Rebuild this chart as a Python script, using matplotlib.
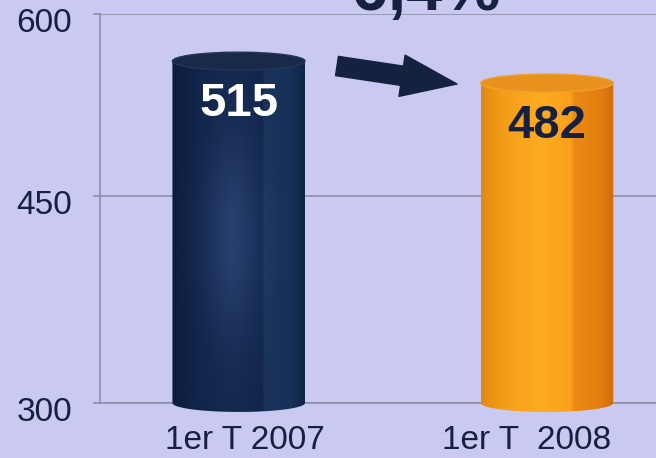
import numpy as np
import matplotlib
matplotlib.use("Agg")
import matplotlib.pyplot as plt
from matplotlib.path import Path
from matplotlib.patches import PathPatch, Ellipse
from matplotlib.colors import to_rgb
from matplotlib.transforms import ScaledTranslation

plt.rcParams['font.family'] = ['Liberation Sans', 'DejaVu Sans']

# data
categories = ['1er T 2007', '1er T  2008']
values = [515, 482]
change_label = '-6,4%'
y_ticks = [300, 450, 600]

BG = '#c9c9f1'
NAVY = '#16213f'
GRID = '#8a8aa6'

fig = plt.figure(figsize=(6.56, 4.58), dpi=100)
fig.patch.set_facecolor(BG)

rect = [0.1524, 0.1201, 0.86, 0.8493]
ax = fig.add_axes(rect)
ax.set_facecolor(BG)

# the printed axis is not linear (3D perspective in the original)
fwd = lambda y: np.interp(y, [300, 450, 600], [0, 0.532, 1])
inv = lambda y: np.interp(y, [0, 0.532, 1], [300, 450, 600])
ax.set_yscale('function', functions=(fwd, inv))
ax.set_ylim(300, 600)
ax.set_xlim(-0.45, 1.38)
ax.set_yticks(y_ticks)
ax.set_yticklabels([str(t) for t in y_ticks])
ax.set_xticks(range(len(categories)))
ax.set_xticklabels(categories)
ax.tick_params(axis='y', length=5, width=1.1, color=GRID, pad=15,
               labelsize=24, labelcolor=NAVY)
ax.tick_params(axis='x', length=0, pad=16, labelsize=24, labelcolor=NAVY)
ax.yaxis.grid(True, color=GRID, linewidth=1.1)
ax.set_axisbelow(True)
for s in ['top', 'right']:
    ax.spines[s].set_visible(False)
for s in ['left', 'bottom']:
    ax.spines[s].set_color(GRID)
    ax.spines[s].set_linewidth(1.1)

for lab in ax.get_yticklabels():
    lab.set_transform(lab.get_transform() + ScaledTranslation(0, -0.06, fig.dpi_scale_trans))
x_shift = [0.06, -0.2]
for lab, dx in zip(ax.get_xticklabels(), x_shift):
    lab.set_transform(lab.get_transform() + ScaledTranslation(dx, 0, fig.dpi_scale_trans))

# cylinders drawn on a linear overlay axis (heights from zero, like the original)
ax2 = fig.add_axes(rect)
ax2.set_xlim(-0.45, 1.38)
ax2.set_ylim(0, 586)
ax2.axis('off')


def shade(stops, ny=60, glow=None):
    xs = np.linspace(0, 1, 200)
    pos = [p for p, c in stops]
    cols = np.array([to_rgb(c) for p, c in stops])
    row = np.stack([np.interp(xs, pos, cols[:, k]) for k in range(3)], axis=1)
    img = np.repeat(row[None, :, :], ny, axis=0)
    if glow is not None:
        gx, gy, amt = glow
        X, Y = np.meshgrid(xs, np.linspace(0, 1, ny))
        g = np.exp(-((X - gx) ** 2 / 0.05 + (Y - gy) ** 2 / 0.08)) * amt
        img = np.clip(img + g[:, :, None] * np.array([0.6, 0.75, 1.0]), 0, 1)
    return img


def cylinder(a, xc, w, h, ry, img, top_col, rim_col):
    t = np.linspace(np.pi, 2 * np.pi, 60)
    verts = [(xc - w / 2, h)]
    verts += list(zip(xc + w / 2 * np.cos(t), ry * np.sin(t)))
    verts += [(xc + w / 2, h), (xc - w / 2, h)]
    codes = [Path.MOVETO] + [Path.LINETO] * (len(verts) - 2) + [Path.CLOSEPOLY]
    body = PathPatch(Path(verts, codes), facecolor='none', edgecolor='none',
                     zorder=2, clip_on=False)
    a.add_patch(body)
    im = a.imshow(img, extent=[xc - w / 2, xc + w / 2, -ry, h], aspect='auto',
                  origin='lower', zorder=2, interpolation='bilinear')
    im.set_clip_path(body)
    im.set_clip_box(fig.bbox)
    a.add_patch(Ellipse((xc, h), w, 2 * ry, facecolor=top_col, edgecolor=rim_col,
                        linewidth=1.0, zorder=3))


navy_img = shade([(0, '#0d1d3c'), (0.2, '#11244a'), (0.45, '#15294f'),
                  (0.68, '#12264c'), (0.7, '#1a3359'), (0.9, '#163058'), (1, '#0f2344')],
                 glow=(0.45, 0.5, 0.12))
orange_img = shade([(0, '#e18812'), (0.15, '#f39c18'), (0.45, '#fdac22'),
                    (0.68, '#f9a01a'), (0.7, '#ec8a14'), (0.9, '#e37e12'), (1, '#d06a0c')])

w = 0.43
ry = 13.5
cylinder(ax2, 0, w, values[0], ry, navy_img, '#18294a', '#22365a')
cylinder(ax2, 1, w, values[1], ry, orange_img, '#e8911c', '#f0a02c')
ax2.set_xlim(-0.45, 1.38)
ax2.set_ylim(0, 586)

label_cols = ['white', NAVY]
for i, v in enumerate(values):
    ax2.text(i, v - 65, str(v), ha='center', va='center', fontsize=34,
             fontweight='bold', color=label_cols[i], zorder=4)

# arrow between the bars
ax2.annotate('', xy=(457, 458 - 84), xytext=(337, 458 - 66),
             xycoords='figure pixels', textcoords='figure pixels',
             arrowprops=dict(arrowstyle='simple,head_length=40,head_width=30,tail_width=14',
                             mutation_scale=1, color='#14223f', shrinkA=0, shrinkB=0))

# change label, cut by the top edge in the original
fig.text(331 / 656, 1 - 10 / 458, change_label, fontsize=47, fontweight='bold',
         color=NAVY, ha='left', va='baseline')

fig.savefig('out.png', dpi=100, facecolor=BG)
